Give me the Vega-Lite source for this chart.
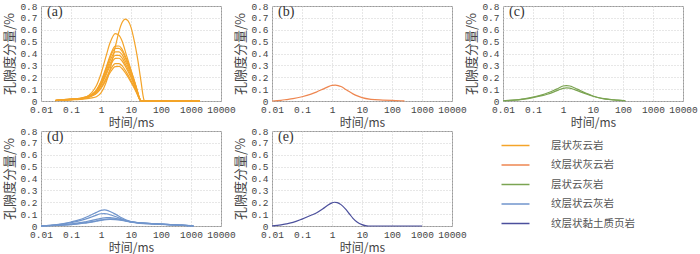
{
  "$schema": "https://vega.github.io/schema/vega-lite/v6.json",
  "background": "white",
  "padding": {"left": 3, "top": 0, "right": 0, "bottom": 0},
  "datasets": {
    "rocks": [
      {"p": "a", "r": "层状灰云岩"},
      {"p": "b", "r": "纹层状灰云岩"},
      {"p": "c", "r": "层状云灰岩"},
      {"p": "d", "r": "纹层状云灰岩"},
      {"p": "e", "r": "纹层状黏土质页岩"}
    ],
    "curves": [
      {"p":"a","c":"a1","t":0.03,"v":0.004},{"p":"a","c":"a1","t":0.05,"v":0.008},{"p":"a","c":"a1","t":0.1,"v":0.012},{"p":"a","c":"a1","t":0.2,"v":0.016},{"p":"a","c":"a1","t":0.3,"v":0.018},{"p":"a","c":"a1","t":0.5,"v":0.026},{"p":"a","c":"a1","t":0.7,"v":0.036},{"p":"a","c":"a1","t":1,"v":0.068},{"p":"a","c":"a1","t":1.5,"v":0.16},{"p":"a","c":"a1","t":2,"v":0.266},{"p":"a","c":"a1","t":3,"v":0.457},{"p":"a","c":"a1","t":4,"v":0.587},{"p":"a","c":"a1","t":5,"v":0.658},{"p":"a","c":"a1","t":6.5,"v":0.69},{"p":"a","c":"a1","t":8,"v":0.675},{"p":"a","c":"a1","t":10,"v":0.62},{"p":"a","c":"a1","t":13,"v":0.5},{"p":"a","c":"a1","t":16,"v":0.38},{"p":"a","c":"a1","t":18,"v":0.3},{"p":"a","c":"a1","t":20,"v":0.22},{"p":"a","c":"a1","t":22,"v":0.15},{"p":"a","c":"a1","t":25,"v":0.05},{"p":"a","c":"a1","t":27,"v":0.01},{"p":"a","c":"a1","t":30,"v":0},{"p":"a","c":"a1","t":300,"v":0},{"p":"a","c":"a1","t":600,"v":0.004},{"p":"a","c":"a1","t":1200,"v":0.002},{"p":"a","c":"a1","t":2000,"v":0},

      {"p":"a","c":"a2","t":0.03,"v":0.004},{"p":"a","c":"a2","t":0.05,"v":0.008},{"p":"a","c":"a2","t":0.1,"v":0.013},{"p":"a","c":"a2","t":0.2,"v":0.018},{"p":"a","c":"a2","t":0.3,"v":0.03},{"p":"a","c":"a2","t":0.5,"v":0.073},{"p":"a","c":"a2","t":0.7,"v":0.128},{"p":"a","c":"a2","t":1,"v":0.23},{"p":"a","c":"a2","t":1.5,"v":0.384},{"p":"a","c":"a2","t":2,"v":0.49},{"p":"a","c":"a2","t":3,"v":0.568},{"p":"a","c":"a2","t":4,"v":0.553},{"p":"a","c":"a2","t":5,"v":0.507},{"p":"a","c":"a2","t":7,"v":0.388},{"p":"a","c":"a2","t":10,"v":0.262},{"p":"a","c":"a2","t":13,"v":0.165},{"p":"a","c":"a2","t":16,"v":0.08},{"p":"a","c":"a2","t":18,"v":0.034},{"p":"a","c":"a2","t":20,"v":0.006},{"p":"a","c":"a2","t":22,"v":0},{"p":"a","c":"a2","t":2000,"v":0},

      {"p":"a","c":"a3","t":0.03,"v":0.004},{"p":"a","c":"a3","t":0.05,"v":0.008},{"p":"a","c":"a3","t":0.1,"v":0.013},{"p":"a","c":"a3","t":0.2,"v":0.018},{"p":"a","c":"a3","t":0.3,"v":0.029},{"p":"a","c":"a3","t":0.5,"v":0.055},{"p":"a","c":"a3","t":0.7,"v":0.091},{"p":"a","c":"a3","t":1,"v":0.165},{"p":"a","c":"a3","t":1.5,"v":0.287},{"p":"a","c":"a3","t":2,"v":0.379},{"p":"a","c":"a3","t":3,"v":0.462},{"p":"a","c":"a3","t":4,"v":0.463},{"p":"a","c":"a3","t":5,"v":0.437},{"p":"a","c":"a3","t":7,"v":0.357},{"p":"a","c":"a3","t":10,"v":0.254},{"p":"a","c":"a3","t":13,"v":0.169},{"p":"a","c":"a3","t":16,"v":0.094},{"p":"a","c":"a3","t":18,"v":0.047},{"p":"a","c":"a3","t":20,"v":0.014},{"p":"a","c":"a3","t":22,"v":0},{"p":"a","c":"a3","t":2000,"v":0},

      {"p":"a","c":"a4","t":0.03,"v":0.005},{"p":"a","c":"a4","t":0.05,"v":0.01},{"p":"a","c":"a4","t":0.1,"v":0.016},{"p":"a","c":"a4","t":0.2,"v":0.022},{"p":"a","c":"a4","t":0.3,"v":0.033},{"p":"a","c":"a4","t":0.5,"v":0.057},{"p":"a","c":"a4","t":0.7,"v":0.09},{"p":"a","c":"a4","t":1,"v":0.159},{"p":"a","c":"a4","t":1.5,"v":0.275},{"p":"a","c":"a4","t":2,"v":0.363},{"p":"a","c":"a4","t":3,"v":0.443},{"p":"a","c":"a4","t":4,"v":0.443},{"p":"a","c":"a4","t":5,"v":0.419},{"p":"a","c":"a4","t":7,"v":0.342},{"p":"a","c":"a4","t":10,"v":0.243},{"p":"a","c":"a4","t":13,"v":0.162},{"p":"a","c":"a4","t":16,"v":0.09},{"p":"a","c":"a4","t":18,"v":0.045},{"p":"a","c":"a4","t":20,"v":0.014},{"p":"a","c":"a4","t":22,"v":0},{"p":"a","c":"a4","t":2000,"v":0},

      {"p":"a","c":"a5","t":0.03,"v":0.003},{"p":"a","c":"a5","t":0.05,"v":0.006},{"p":"a","c":"a5","t":0.1,"v":0.01},{"p":"a","c":"a5","t":0.2,"v":0.014},{"p":"a","c":"a5","t":0.3,"v":0.024},{"p":"a","c":"a5","t":0.5,"v":0.047},{"p":"a","c":"a5","t":0.7,"v":0.081},{"p":"a","c":"a5","t":1,"v":0.147},{"p":"a","c":"a5","t":1.5,"v":0.256},{"p":"a","c":"a5","t":2,"v":0.339},{"p":"a","c":"a5","t":3,"v":0.413},{"p":"a","c":"a5","t":4,"v":0.414},{"p":"a","c":"a5","t":5,"v":0.391},{"p":"a","c":"a5","t":7,"v":0.319},{"p":"a","c":"a5","t":10,"v":0.227},{"p":"a","c":"a5","t":13,"v":0.151},{"p":"a","c":"a5","t":16,"v":0.084},{"p":"a","c":"a5","t":18,"v":0.042},{"p":"a","c":"a5","t":20,"v":0.013},{"p":"a","c":"a5","t":22,"v":0},{"p":"a","c":"a5","t":300,"v":0},{"p":"a","c":"a5","t":700,"v":0.003},{"p":"a","c":"a5","t":1500,"v":0.001},{"p":"a","c":"a5","t":2000,"v":0},

      {"p":"a","c":"a6","t":0.03,"v":0.004},{"p":"a","c":"a6","t":0.05,"v":0.008},{"p":"a","c":"a6","t":0.1,"v":0.013},{"p":"a","c":"a6","t":0.2,"v":0.018},{"p":"a","c":"a6","t":0.3,"v":0.028},{"p":"a","c":"a6","t":0.5,"v":0.049},{"p":"a","c":"a6","t":0.7,"v":0.078},{"p":"a","c":"a6","t":1,"v":0.138},{"p":"a","c":"a6","t":1.5,"v":0.238},{"p":"a","c":"a6","t":2,"v":0.314},{"p":"a","c":"a6","t":3,"v":0.384},{"p":"a","c":"a6","t":4,"v":0.384},{"p":"a","c":"a6","t":5,"v":0.363},{"p":"a","c":"a6","t":7,"v":0.296},{"p":"a","c":"a6","t":10,"v":0.211},{"p":"a","c":"a6","t":13,"v":0.14},{"p":"a","c":"a6","t":16,"v":0.078},{"p":"a","c":"a6","t":18,"v":0.039},{"p":"a","c":"a6","t":20,"v":0.012},{"p":"a","c":"a6","t":22,"v":0},{"p":"a","c":"a6","t":2000,"v":0},

      {"p":"a","c":"a7","t":0.03,"v":0.005},{"p":"a","c":"a7","t":0.05,"v":0.01},{"p":"a","c":"a7","t":0.1,"v":0.017},{"p":"a","c":"a7","t":0.2,"v":0.023},{"p":"a","c":"a7","t":0.3,"v":0.034},{"p":"a","c":"a7","t":0.5,"v":0.053},{"p":"a","c":"a7","t":0.7,"v":0.077},{"p":"a","c":"a7","t":1,"v":0.131},{"p":"a","c":"a7","t":1.5,"v":0.223},{"p":"a","c":"a7","t":2,"v":0.294},{"p":"a","c":"a7","t":3,"v":0.359},{"p":"a","c":"a7","t":4,"v":0.36},{"p":"a","c":"a7","t":5,"v":0.339},{"p":"a","c":"a7","t":7,"v":0.277},{"p":"a","c":"a7","t":10,"v":0.197},{"p":"a","c":"a7","t":13,"v":0.131},{"p":"a","c":"a7","t":16,"v":0.073},{"p":"a","c":"a7","t":18,"v":0.037},{"p":"a","c":"a7","t":20,"v":0.011},{"p":"a","c":"a7","t":22,"v":0},{"p":"a","c":"a7","t":2000,"v":0},

      {"p":"a","c":"a8","t":0.03,"v":0.004},{"p":"a","c":"a8","t":0.05,"v":0.007},{"p":"a","c":"a8","t":0.1,"v":0.012},{"p":"a","c":"a8","t":0.2,"v":0.016},{"p":"a","c":"a8","t":0.3,"v":0.025},{"p":"a","c":"a8","t":0.5,"v":0.042},{"p":"a","c":"a8","t":0.7,"v":0.065},{"p":"a","c":"a8","t":1,"v":0.114},{"p":"a","c":"a8","t":1.5,"v":0.195},{"p":"a","c":"a8","t":2,"v":0.258},{"p":"a","c":"a8","t":3,"v":0.315},{"p":"a","c":"a8","t":4,"v":0.315},{"p":"a","c":"a8","t":5,"v":0.298},{"p":"a","c":"a8","t":7,"v":0.243},{"p":"a","c":"a8","t":10,"v":0.173},{"p":"a","c":"a8","t":13,"v":0.115},{"p":"a","c":"a8","t":16,"v":0.064},{"p":"a","c":"a8","t":18,"v":0.032},{"p":"a","c":"a8","t":20,"v":0.01},{"p":"a","c":"a8","t":22,"v":0},{"p":"a","c":"a8","t":2000,"v":0},

      {"p":"a","c":"a9","t":0.03,"v":0.004},{"p":"a","c":"a9","t":0.05,"v":0.009},{"p":"a","c":"a9","t":0.1,"v":0.014},{"p":"a","c":"a9","t":0.2,"v":0.02},{"p":"a","c":"a9","t":0.3,"v":0.029},{"p":"a","c":"a9","t":0.5,"v":0.044},{"p":"a","c":"a9","t":0.7,"v":0.063},{"p":"a","c":"a9","t":1,"v":0.106},{"p":"a","c":"a9","t":1.5,"v":0.18},{"p":"a","c":"a9","t":2,"v":0.238},{"p":"a","c":"a9","t":3,"v":0.29},{"p":"a","c":"a9","t":4,"v":0.291},{"p":"a","c":"a9","t":5,"v":0.274},{"p":"a","c":"a9","t":7,"v":0.224},{"p":"a","c":"a9","t":10,"v":0.159},{"p":"a","c":"a9","t":13,"v":0.106},{"p":"a","c":"a9","t":16,"v":0.059},{"p":"a","c":"a9","t":18,"v":0.03},{"p":"a","c":"a9","t":20,"v":0.009},{"p":"a","c":"a9","t":22,"v":0},{"p":"a","c":"a9","t":2000,"v":0},

      {"p":"b","c":"b1","t":0.01,"v":0},{"p":"b","c":"b1","t":0.02,"v":0.006},{"p":"b","c":"b1","t":0.03,"v":0.012},{"p":"b","c":"b1","t":0.05,"v":0.02},{"p":"b","c":"b1","t":0.1,"v":0.036},{"p":"b","c":"b1","t":0.2,"v":0.058},{"p":"b","c":"b1","t":0.3,"v":0.075},{"p":"b","c":"b1","t":0.5,"v":0.1},{"p":"b","c":"b1","t":0.7,"v":0.117},{"p":"b","c":"b1","t":1,"v":0.131},{"p":"b","c":"b1","t":1.3,"v":0.133},{"p":"b","c":"b1","t":1.6,"v":0.13},{"p":"b","c":"b1","t":2,"v":0.122},{"p":"b","c":"b1","t":3,"v":0.095},{"p":"b","c":"b1","t":5,"v":0.06},{"p":"b","c":"b1","t":7,"v":0.043},{"p":"b","c":"b1","t":10,"v":0.028},{"p":"b","c":"b1","t":20,"v":0.014},{"p":"b","c":"b1","t":50,"v":0.008},{"p":"b","c":"b1","t":100,"v":0.005},{"p":"b","c":"b1","t":200,"v":0.002},{"p":"b","c":"b1","t":260,"v":0.001},

      {"p":"c","c":"c1","t":0.01,"v":0.002},{"p":"c","c":"c1","t":0.02,"v":0.007},{"p":"c","c":"c1","t":0.05,"v":0.018},{"p":"c","c":"c1","t":0.1,"v":0.033},{"p":"c","c":"c1","t":0.2,"v":0.052},{"p":"c","c":"c1","t":0.3,"v":0.067},{"p":"c","c":"c1","t":0.5,"v":0.09},{"p":"c","c":"c1","t":0.7,"v":0.108},{"p":"c","c":"c1","t":1,"v":0.126},{"p":"c","c":"c1","t":1.3,"v":0.13},{"p":"c","c":"c1","t":1.7,"v":0.126},{"p":"c","c":"c1","t":2,"v":0.12},{"p":"c","c":"c1","t":3,"v":0.1},{"p":"c","c":"c1","t":5,"v":0.073},{"p":"c","c":"c1","t":7,"v":0.058},{"p":"c","c":"c1","t":10,"v":0.042},{"p":"c","c":"c1","t":20,"v":0.022},{"p":"c","c":"c1","t":50,"v":0.01},{"p":"c","c":"c1","t":100,"v":0.004},{"p":"c","c":"c1","t":120,"v":0.002},

      {"p":"c","c":"c2","t":0.01,"v":0.002},{"p":"c","c":"c2","t":0.02,"v":0.006},{"p":"c","c":"c2","t":0.05,"v":0.016},{"p":"c","c":"c2","t":0.1,"v":0.029},{"p":"c","c":"c2","t":0.2,"v":0.045},{"p":"c","c":"c2","t":0.3,"v":0.057},{"p":"c","c":"c2","t":0.5,"v":0.077},{"p":"c","c":"c2","t":0.7,"v":0.092},{"p":"c","c":"c2","t":1,"v":0.107},{"p":"c","c":"c2","t":1.3,"v":0.111},{"p":"c","c":"c2","t":1.7,"v":0.108},{"p":"c","c":"c2","t":2,"v":0.103},{"p":"c","c":"c2","t":3,"v":0.087},{"p":"c","c":"c2","t":5,"v":0.066},{"p":"c","c":"c2","t":7,"v":0.053},{"p":"c","c":"c2","t":10,"v":0.04},{"p":"c","c":"c2","t":20,"v":0.021},{"p":"c","c":"c2","t":50,"v":0.009},{"p":"c","c":"c2","t":100,"v":0.003},{"p":"c","c":"c2","t":120,"v":0.002},

      {"p":"d","c":"d1","t":0.01,"v":0.001},{"p":"d","c":"d1","t":0.02,"v":0.006},{"p":"d","c":"d1","t":0.05,"v":0.018},{"p":"d","c":"d1","t":0.1,"v":0.034},{"p":"d","c":"d1","t":0.2,"v":0.055},{"p":"d","c":"d1","t":0.3,"v":0.072},{"p":"d","c":"d1","t":0.5,"v":0.097},{"p":"d","c":"d1","t":0.7,"v":0.115},{"p":"d","c":"d1","t":1,"v":0.132},{"p":"d","c":"d1","t":1.3,"v":0.135},{"p":"d","c":"d1","t":1.7,"v":0.13},{"p":"d","c":"d1","t":2,"v":0.122},{"p":"d","c":"d1","t":3,"v":0.1},{"p":"d","c":"d1","t":5,"v":0.068},{"p":"d","c":"d1","t":7,"v":0.05},{"p":"d","c":"d1","t":10,"v":0.037},{"p":"d","c":"d1","t":20,"v":0.027},{"p":"d","c":"d1","t":50,"v":0.02},{"p":"d","c":"d1","t":100,"v":0.016},{"p":"d","c":"d1","t":200,"v":0.012},{"p":"d","c":"d1","t":500,"v":0.007},{"p":"d","c":"d1","t":1000,"v":0.003},{"p":"d","c":"d1","t":1200,"v":0.001},

      {"p":"d","c":"d2","t":0.01,"v":0.001},{"p":"d","c":"d2","t":0.02,"v":0.005},{"p":"d","c":"d2","t":0.05,"v":0.015},{"p":"d","c":"d2","t":0.1,"v":0.028},{"p":"d","c":"d2","t":0.2,"v":0.045},{"p":"d","c":"d2","t":0.3,"v":0.058},{"p":"d","c":"d2","t":0.5,"v":0.078},{"p":"d","c":"d2","t":0.7,"v":0.092},{"p":"d","c":"d2","t":1,"v":0.103},{"p":"d","c":"d2","t":1.3,"v":0.105},{"p":"d","c":"d2","t":1.7,"v":0.101},{"p":"d","c":"d2","t":2,"v":0.095},{"p":"d","c":"d2","t":3,"v":0.08},{"p":"d","c":"d2","t":5,"v":0.058},{"p":"d","c":"d2","t":7,"v":0.045},{"p":"d","c":"d2","t":10,"v":0.035},{"p":"d","c":"d2","t":20,"v":0.026},{"p":"d","c":"d2","t":50,"v":0.02},{"p":"d","c":"d2","t":100,"v":0.016},{"p":"d","c":"d2","t":200,"v":0.012},{"p":"d","c":"d2","t":500,"v":0.007},{"p":"d","c":"d2","t":1000,"v":0.003},{"p":"d","c":"d2","t":1200,"v":0.001},

      {"p":"d","c":"d3","t":0.01,"v":0.001},{"p":"d","c":"d3","t":0.02,"v":0.004},{"p":"d","c":"d3","t":0.05,"v":0.01},{"p":"d","c":"d3","t":0.1,"v":0.018},{"p":"d","c":"d3","t":0.2,"v":0.028},{"p":"d","c":"d3","t":0.3,"v":0.036},{"p":"d","c":"d3","t":0.5,"v":0.047},{"p":"d","c":"d3","t":0.7,"v":0.056},{"p":"d","c":"d3","t":1,"v":0.064},{"p":"d","c":"d3","t":1.5,"v":0.07},{"p":"d","c":"d3","t":2,"v":0.07},{"p":"d","c":"d3","t":3,"v":0.064},{"p":"d","c":"d3","t":5,"v":0.052},{"p":"d","c":"d3","t":7,"v":0.043},{"p":"d","c":"d3","t":10,"v":0.035},{"p":"d","c":"d3","t":20,"v":0.026},{"p":"d","c":"d3","t":50,"v":0.02},{"p":"d","c":"d3","t":100,"v":0.016},{"p":"d","c":"d3","t":200,"v":0.012},{"p":"d","c":"d3","t":500,"v":0.007},{"p":"d","c":"d3","t":1000,"v":0.003},{"p":"d","c":"d3","t":1200,"v":0.001},

      {"p":"d","c":"d4","t":0.01,"v":0.001},{"p":"d","c":"d4","t":0.02,"v":0.003},{"p":"d","c":"d4","t":0.05,"v":0.008},{"p":"d","c":"d4","t":0.1,"v":0.014},{"p":"d","c":"d4","t":0.2,"v":0.022},{"p":"d","c":"d4","t":0.3,"v":0.028},{"p":"d","c":"d4","t":0.5,"v":0.037},{"p":"d","c":"d4","t":0.7,"v":0.044},{"p":"d","c":"d4","t":1,"v":0.051},{"p":"d","c":"d4","t":1.5,"v":0.058},{"p":"d","c":"d4","t":2,"v":0.06},{"p":"d","c":"d4","t":3,"v":0.059},{"p":"d","c":"d4","t":5,"v":0.051},{"p":"d","c":"d4","t":7,"v":0.043},{"p":"d","c":"d4","t":10,"v":0.035},{"p":"d","c":"d4","t":20,"v":0.025},{"p":"d","c":"d4","t":50,"v":0.019},{"p":"d","c":"d4","t":100,"v":0.015},{"p":"d","c":"d4","t":200,"v":0.011},{"p":"d","c":"d4","t":500,"v":0.006},{"p":"d","c":"d4","t":1000,"v":0.003},{"p":"d","c":"d4","t":1200,"v":0.001},

      {"p":"d","c":"d5","t":0.01,"v":0.001},{"p":"d","c":"d5","t":0.02,"v":0.003},{"p":"d","c":"d5","t":0.05,"v":0.007},{"p":"d","c":"d5","t":0.1,"v":0.012},{"p":"d","c":"d5","t":0.2,"v":0.019},{"p":"d","c":"d5","t":0.3,"v":0.025},{"p":"d","c":"d5","t":0.5,"v":0.033},{"p":"d","c":"d5","t":0.7,"v":0.04},{"p":"d","c":"d5","t":1,"v":0.047},{"p":"d","c":"d5","t":1.5,"v":0.053},{"p":"d","c":"d5","t":2,"v":0.055},{"p":"d","c":"d5","t":3,"v":0.054},{"p":"d","c":"d5","t":5,"v":0.047},{"p":"d","c":"d5","t":7,"v":0.04},{"p":"d","c":"d5","t":10,"v":0.032},{"p":"d","c":"d5","t":20,"v":0.022},{"p":"d","c":"d5","t":50,"v":0.016},{"p":"d","c":"d5","t":100,"v":0.013},{"p":"d","c":"d5","t":200,"v":0.01},{"p":"d","c":"d5","t":500,"v":0.006},{"p":"d","c":"d5","t":1000,"v":0.002},{"p":"d","c":"d5","t":1200,"v":0.001},

      {"p":"e","c":"e1","t":0.01,"v":0.001},{"p":"e","c":"e1","t":0.02,"v":0.01},{"p":"e","c":"e1","t":0.03,"v":0.018},{"p":"e","c":"e1","t":0.05,"v":0.03},{"p":"e","c":"e1","t":0.1,"v":0.058},{"p":"e","c":"e1","t":0.2,"v":0.09},{"p":"e","c":"e1","t":0.3,"v":0.11},{"p":"e","c":"e1","t":0.5,"v":0.145},{"p":"e","c":"e1","t":0.7,"v":0.172},{"p":"e","c":"e1","t":1,"v":0.195},{"p":"e","c":"e1","t":1.2,"v":0.2},{"p":"e","c":"e1","t":1.5,"v":0.197},{"p":"e","c":"e1","t":2,"v":0.18},{"p":"e","c":"e1","t":3,"v":0.135},{"p":"e","c":"e1","t":4,"v":0.095},{"p":"e","c":"e1","t":5,"v":0.065},{"p":"e","c":"e1","t":7,"v":0.032},{"p":"e","c":"e1","t":10,"v":0.012},{"p":"e","c":"e1","t":13,"v":0.003},{"p":"e","c":"e1","t":16,"v":0},{"p":"e","c":"e1","t":1000,"v":0}
    ]
  },
  "data": {"name": "curves"},
  "columns": 3,
  "spacing": {"row": 30, "column": 51},
  "bounds": "flush",
  "concat": [
    {
      "title": "(a)",
      "width": 180, "height": 95,
      "transform": [{"filter": "datum.p === 'a'"}, {"lookup": "p", "from": {"data": {"name": "rocks"}, "key": "p", "fields": ["r"]}}],
      "mark": {"type": "line", "interpolate": "monotone", "strokeWidth": 1.2},
      "encoding": {
        "x": {"field": "t", "type": "quantitative", "scale": {"type": "log", "domain": [0.01, 10000]}, "axis": {"values": [0.01, 0.1, 1, 10, 100, 1000, 10000], "format": "~g"}, "title": "时间/ms"},
        "y": {"field": "v", "type": "quantitative", "scale": {"domain": [0, 0.8]}, "axis": {"values": [0, 0.1, 0.2, 0.3, 0.4, 0.5, 0.6, 0.7, 0.8], "format": "~g"}, "title": "孔隙度分量/%"},
        "color": {"field": "r", "type": "nominal", "title": null, "scale": {"domain": ["层状灰云岩", "纹层状灰云岩", "层状云灰岩", "纹层状云灰岩", "纹层状黏土质页岩"], "range": ["#F4A429", "#EE8650", "#7BA452", "#7095CC", "#4B4F9C"]}},
        "detail": {"field": "c", "type": "nominal"}
      }
    },
    {
      "title": "(b)",
      "width": 180, "height": 95,
      "transform": [{"filter": "datum.p === 'b'"}, {"lookup": "p", "from": {"data": {"name": "rocks"}, "key": "p", "fields": ["r"]}}],
      "mark": {"type": "line", "interpolate": "monotone", "strokeWidth": 1.2},
      "encoding": {
        "x": {"field": "t", "type": "quantitative", "scale": {"type": "log", "domain": [0.01, 10000]}, "axis": {"values": [0.01, 0.1, 1, 10, 100, 1000, 10000], "format": "~g"}, "title": "时间/ms"},
        "y": {"field": "v", "type": "quantitative", "scale": {"domain": [0, 0.8]}, "axis": {"values": [0, 0.1, 0.2, 0.3, 0.4, 0.5, 0.6, 0.7, 0.8], "format": "~g"}, "title": "孔隙度分量/%"},
        "color": {"field": "r", "type": "nominal", "title": null, "scale": {"domain": ["层状灰云岩", "纹层状灰云岩", "层状云灰岩", "纹层状云灰岩", "纹层状黏土质页岩"], "range": ["#F4A429", "#EE8650", "#7BA452", "#7095CC", "#4B4F9C"]}},
        "detail": {"field": "c", "type": "nominal"}
      }
    },
    {
      "title": "(c)",
      "width": 180, "height": 95,
      "transform": [{"filter": "datum.p === 'c'"}, {"lookup": "p", "from": {"data": {"name": "rocks"}, "key": "p", "fields": ["r"]}}],
      "mark": {"type": "line", "interpolate": "monotone", "strokeWidth": 1.2},
      "encoding": {
        "x": {"field": "t", "type": "quantitative", "scale": {"type": "log", "domain": [0.01, 10000]}, "axis": {"values": [0.01, 0.1, 1, 10, 100, 1000, 10000], "format": "~g"}, "title": "时间/ms"},
        "y": {"field": "v", "type": "quantitative", "scale": {"domain": [0, 0.8]}, "axis": {"values": [0, 0.1, 0.2, 0.3, 0.4, 0.5, 0.6, 0.7, 0.8], "format": "~g"}, "title": "孔隙度分量/%"},
        "color": {"field": "r", "type": "nominal", "title": null, "scale": {"domain": ["层状灰云岩", "纹层状灰云岩", "层状云灰岩", "纹层状云灰岩", "纹层状黏土质页岩"], "range": ["#F4A429", "#EE8650", "#7BA452", "#7095CC", "#4B4F9C"]}},
        "detail": {"field": "c", "type": "nominal"}
      }
    },
    {
      "title": "(d)",
      "width": 180, "height": 95,
      "transform": [{"filter": "datum.p === 'd'"}, {"lookup": "p", "from": {"data": {"name": "rocks"}, "key": "p", "fields": ["r"]}}],
      "mark": {"type": "line", "interpolate": "monotone", "strokeWidth": 1.2},
      "encoding": {
        "x": {"field": "t", "type": "quantitative", "scale": {"type": "log", "domain": [0.01, 10000]}, "axis": {"values": [0.01, 0.1, 1, 10, 100, 1000, 10000], "format": "~g"}, "title": "时间/ms"},
        "y": {"field": "v", "type": "quantitative", "scale": {"domain": [0, 0.8]}, "axis": {"values": [0, 0.1, 0.2, 0.3, 0.4, 0.5, 0.6, 0.7, 0.8], "format": "~g"}, "title": "孔隙度分量/%"},
        "color": {"field": "r", "type": "nominal", "title": null, "scale": {"domain": ["层状灰云岩", "纹层状灰云岩", "层状云灰岩", "纹层状云灰岩", "纹层状黏土质页岩"], "range": ["#F4A429", "#EE8650", "#7BA452", "#7095CC", "#4B4F9C"]}},
        "detail": {"field": "c", "type": "nominal"}
      }
    },
    {
      "title": "(e)",
      "width": 180, "height": 95,
      "transform": [{"filter": "datum.p === 'e'"}, {"lookup": "p", "from": {"data": {"name": "rocks"}, "key": "p", "fields": ["r"]}}],
      "mark": {"type": "line", "interpolate": "monotone", "strokeWidth": 1.2},
      "encoding": {
        "x": {"field": "t", "type": "quantitative", "scale": {"type": "log", "domain": [0.01, 10000]}, "axis": {"values": [0.01, 0.1, 1, 10, 100, 1000, 10000], "format": "~g"}, "title": "时间/ms"},
        "y": {"field": "v", "type": "quantitative", "scale": {"domain": [0, 0.8]}, "axis": {"values": [0, 0.1, 0.2, 0.3, 0.4, 0.5, 0.6, 0.7, 0.8], "format": "~g"}, "title": "孔隙度分量/%"},
        "color": {"field": "r", "type": "nominal", "title": null, "scale": {"domain": ["层状灰云岩", "纹层状灰云岩", "层状云灰岩", "纹层状云灰岩", "纹层状黏土质页岩"], "range": ["#F4A429", "#EE8650", "#7BA452", "#7095CC", "#4B4F9C"]}},
        "detail": {"field": "c", "type": "nominal"}
      }
    }
  ],
  "resolve": {"scale": {"color": "shared"}},
  "config": {
    "view": {"stroke": "#9a9a9a", "strokeWidth": 1},
    "axis": {
      "grid": true, "gridColor": "#cfcfcf", "gridDash": [1, 2], "gridWidth": 1,
      "ticks": false, "domain": false,
      "labelOverlap": false, "labelFlush": false, "labelBound": false,
      "labelFont": "Liberation Mono", "labelFontSize": 9.5, "labelColor": "#444",
      "titleFont": "Noto Sans CJK SC", "titleFontSize": 12, "titleColor": "#444", "titleFontWeight": "normal"
    },
    "axisX": {"labelPadding": 3, "titlePadding": 4},
    "axisY": {"labelPadding": 4, "titlePadding": 3, "titleFontSize": 13},
    "title": {"anchor": "start", "frame": "group", "orient": "top", "offset": 0, "dx": 6, "dy": 22, "font": "Liberation Serif", "fontSize": 14, "fontWeight": "normal", "color": "#333"},
    "legend": {
      "orient": "none", "legendX": 469, "legendY": 134,
      "symbolType": "M-3,0H3", "symbolSize": 87, "symbolStrokeWidth": 1.5,
      "labelFont": "Noto Sans CJK SC", "labelFontSize": 10.5, "labelColor": "#555", "labelOffset": 30,
      "rowPadding": 8.5
    }
  }
}
